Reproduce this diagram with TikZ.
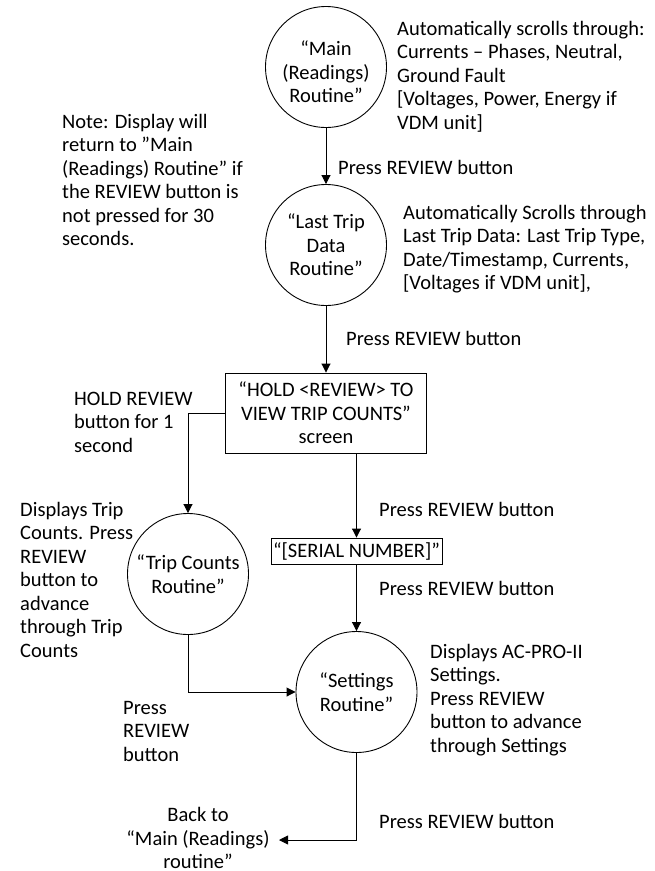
\documentclass[tikz,border=0pt]{standalone}
\usepackage{fontspec}
\setmainfont{Carlito}
\usetikzlibrary{arrows.meta}
\newcommand\mylines[1]{\begin{tabular}[t]{@{}l@{}}#1\end{tabular}}
\begin{document}
\begin{tikzpicture}[x=1pt,y=-1pt,
  every node/.style={font=\fontsize{20.5}{23.5}\selectfont},
  state/.style={draw, circle, line width=0.9pt, minimum size=121pt, inner sep=0pt, align=center},
  screenbox/.style={draw, rectangle, line width=0.9pt, inner sep=0pt, align=center},
  remark/.style={anchor=base west, inner sep=0pt},
  flow/.style={line width=0.9pt, -{Triangle[length=9pt,width=9pt]}}]
\useasboundingbox (0,0) rectangle (655,871);

% states
\node[state] (main) at (326,67) {};
\node[align=center, inner sep=0pt] (maintext) at (326,72) {“Main\\(Readings)\\Routine”};
\node[state] (last) at (326,245) {“Last Trip\\Data\\Routine”};
\node[screenbox, minimum width=201pt, minimum height=80pt] (screen) at (326,413)
  {“HOLD <REVIEW> TO\\VIEW TRIP COUNTS”\\screen};
\node[state] (trip) at (188,574) {“Trip Counts\\Routine”};
\node[screenbox, minimum width=171pt, minimum height=26pt] (serial) at (356.5,551) {“[SERIAL NUMBER]”};
\node[state] (settings) at (356.5,692) {“Settings\\Routine”};
\node[align=center, inner sep=0pt] (back) at (198,838) {Back to\\“Main (Readings)\\routine”};
\coordinate (backtip) at (279,840);

% connectors
\draw[flow] (main.south) -- (last.north);
\draw[flow] (last.south) -- (last.south |- screen.north);
\draw[flow] (screen.west) -| (trip.north);
\draw[flow] (serial.north |- screen.south) -- (serial.north);
\draw[flow] (serial.south) -- (settings.north);
\draw[flow] (trip.south) |- (settings.west);
\draw[flow] (settings.south) |- (backtip);

% remarks
\node[remark] (mainnote) at (397,35) {\mylines{Automatically scrolls through:\\Currents – Phases, Neutral,\\Ground Fault\\{[}Voltages, Power, Energy if\\VDM unit]}};
\node[remark] (lastnote) at (403,219) {\mylines{Automatically Scrolls through\\Last Trip Data: Last Trip Type,\\Date/Timestamp, Currents,\\{[}Voltages if VDM unit],}};
\node[remark] (note) at (62,128) {\mylines{Note: Display will\\return to ”Main\\(Readings) Routine” if\\the REVIEW button is\\not pressed for 30\\seconds.}};
\node[remark] (hold) at (74,405) {\mylines{HOLD REVIEW\\button for 1\\second}};
\node[remark] (tripnote) at (20,516) {\mylines{Displays Trip\\Counts. Press\\REVIEW\\button to\\advance\\through Trip\\Counts}};
\node[remark] (setnote) at (430,658) {\mylines{Displays AC-PRO-II\\Settings.\\Press REVIEW\\button to advance\\through Settings}};
\node[remark] (pressleft) at (123,714) {\mylines{Press\\REVIEW\\button}};
\node[remark] (p1) at (338,174) {Press REVIEW button};
\node[remark] (p2) at (346,345) {Press REVIEW button};
\node[remark] (p3) at (379,516) {Press REVIEW button};
\node[remark] (p4) at (379,595) {Press REVIEW button};
\node[remark] (p5) at (379,828) {Press REVIEW button};
\end{tikzpicture}
\end{document}
